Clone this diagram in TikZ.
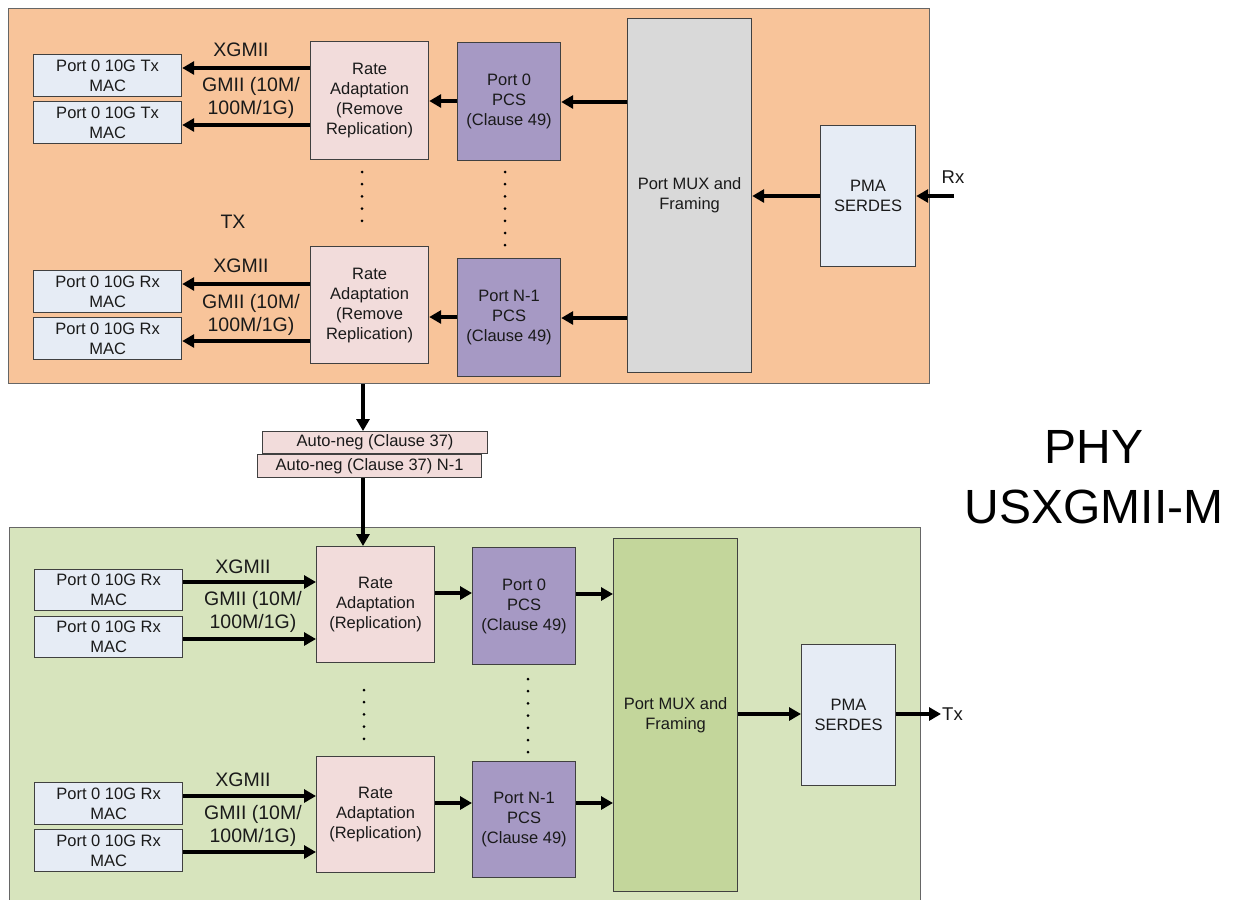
\documentclass[tikz,border=0pt]{standalone}
\usepackage{fontspec}
\setmainfont{Liberation Sans}
\usetikzlibrary{arrows.meta}

\definecolor{rxpanel}{HTML}{F8C49A}
\definecolor{txpanel}{HTML}{D7E4BD}
\definecolor{macfill}{HTML}{E6ECF5}
\definecolor{ratefill}{HTML}{F2DCDB}
\definecolor{pcsfill}{HTML}{A699C4}
\definecolor{muxgray}{HTML}{D9D9D9}
\definecolor{muxgreen}{HTML}{C3D69B}
\definecolor{edge}{HTML}{404040}
\definecolor{ink}{HTML}{1A1A1A}

% block from its top-left and bottom-right corners
\newcommand\blockat[7]{%
  \node[#6, minimum width={#4-#2}, minimum height={#5-#3}, anchor=north west] (#1) at (#2,#3) {#7};}

\begin{document}
\begin{tikzpicture}[x=1pt,y=-1pt,
  panel/.style={draw=edge!80, line width=1.4pt, inner sep=0pt},
  blk/.style={draw=edge, line width=1.2pt, inner sep=0pt, align=center, text=ink,
              font=\fontsize{16.5}{20}\selectfont},
  macbox/.style={blk, fill=macfill},
  ratebox/.style={blk, fill=ratefill},
  pcsbox/.style={blk, fill=pcsfill},
  pmabox/.style={blk, fill=macfill},
  anbox/.style={blk, fill=ratefill},
  lbl/.style={align=center, text=ink, inner sep=0pt, font=\fontsize{19.5}{23}\selectfont},
  iolbl/.style={text=ink, inner sep=0pt, font=\fontsize{18.5}{22}\selectfont},
  arr/.style={line width=3.4pt, -{Triangle[length=12pt,width=13pt]}},
  vdots/.style={line width=3pt, line cap=round, dash pattern=on 0pt off 12.2pt}
]
\useasboundingbox (0,0) rectangle (1233,899);
\fill[white] (0,0) rectangle (1233,899);
\clip (0,0) rectangle (1233,899);

% ---------------- receive side ----------------
\blockat{rxp}{8}{8}{929}{383}{panel, fill=rxpanel}{}

\blockat{rmac1}{33}{54}{181}{96}{macbox}{Port 0 10G Tx\\MAC}
\blockat{rmac2}{33}{101}{181}{143}{macbox}{Port 0 10G Tx\\MAC}
\blockat{rmac3}{33}{270}{181}{312}{macbox}{Port 0 10G Rx\\MAC}
\blockat{rmac4}{33}{317}{181}{359}{macbox}{Port 0 10G Rx\\MAC}

\blockat{rra1}{310}{41}{428}{159}{ratebox}{Rate\\Adaptation\\(Remove\\Replication)}
\blockat{rra2}{310}{246}{428}{363}{ratebox}{Rate\\Adaptation\\(Remove\\Replication)}

\blockat{rpcs1}{457}{42}{560}{160}{pcsbox}{Port 0\\PCS\\(Clause 49)}
\blockat{rpcs2}{457}{258}{560}{376}{pcsbox}{Port N-1\\PCS\\(Clause 49)}

\blockat{rmux}{627}{18}{751}{372}{blk, fill=muxgray}{Port MUX and\\Framing}
\blockat{rpma}{820}{125}{915}{266}{pmabox}{PMA\\SERDES}

\node[lbl] (rx1) at (241,50) {XGMII};
\node[lbl] (rg1) at (251,97.5) {GMII (10M/\\100M/1G)};
\node[lbl] (txl) at (233,222) {TX};
\node[lbl] (rx2) at (241,266) {XGMII};
\node[lbl] (rg2) at (251,314.5) {GMII (10M/\\100M/1G)};

\coordinate (rxin) at (954,196);
\node[iolbl] (rxlbl) at (953,177) {Rx};

\draw[arr] (rra1.west |- 0,68)  -- (rmac1.east |- 0,68);
\draw[arr] (rra1.west |- 0,125) -- (rmac2.east |- 0,125);
\draw[arr] (rra2.west |- 0,284) -- (rmac3.east |- 0,284);
\draw[arr] (rra2.west |- 0,341) -- (rmac4.east |- 0,341);
\draw[arr] (rpcs1.west |- 0,101) -- (rra1.east |- 0,101);
\draw[arr] (rpcs2.west |- 0,317) -- (rra2.east |- 0,317);
\draw[arr] (rmux.west |- 0,102) -- (rpcs1.east |- 0,102);
\draw[arr] (rmux.west |- 0,318) -- (rpcs2.east |- 0,318);
\draw[arr] (rpma.west |- 0,196) -- (rmux.east |- 0,196);
\draw[arr] (rxin) -- (rpma.east |- rxin);

\draw[vdots] (362,172) -- (362,232);
\draw[vdots] (505,172) -- (505,252);

% ---------------- auto-negotiation ----------------
\blockat{an1}{262}{431}{487}{453}{anbox}{Auto-neg (Clause 37)}
\blockat{an2}{257}{454}{481}{477}{anbox}{Auto-neg (Clause 37) N-1}

% ---------------- transmit side ----------------
\blockat{txp}{9}{527}{920}{905}{panel, fill=txpanel}{}

\blockat{tmac1}{34}{569}{182}{610}{macbox}{Port 0 10G Rx\\MAC}
\blockat{tmac2}{34}{616}{182}{657}{macbox}{Port 0 10G Rx\\MAC}
\blockat{tmac3}{34}{782}{182}{824}{macbox}{Port 0 10G Rx\\MAC}
\blockat{tmac4}{34}{829}{182}{871}{macbox}{Port 0 10G Rx\\MAC}

\blockat{tra1}{316}{546}{434}{662}{ratebox}{Rate\\Adaptation\\(Replication)}
\blockat{tra2}{316}{756}{434}{872}{ratebox}{Rate\\Adaptation\\(Replication)}

\blockat{tpcs1}{472}{547}{575}{664}{pcsbox}{Port 0\\PCS\\(Clause 49)}
\blockat{tpcs2}{472}{761}{575}{877}{pcsbox}{Port N-1\\PCS\\(Clause 49)}

\blockat{tmux}{613}{538}{737}{891}{blk, fill=muxgreen}{Port MUX and\\Framing}
\blockat{tpma}{801}{644}{895}{785}{pmabox}{PMA\\SERDES}

\node[lbl] (tx1) at (243,567) {XGMII};
\node[lbl] (tg1) at (253,612) {GMII (10M/\\100M/1G)};
\node[lbl] (tx2) at (243,780) {XGMII};
\node[lbl] (tg2) at (253,825.5) {GMII (10M/\\100M/1G)};

\coordinate (txout) at (941,714);
\node[iolbl, anchor=west] (txlbl) at (942,714) {Tx};

\draw[arr] (tmac1.east |- 0,582) -- (tra1.west |- 0,582);
\draw[arr] (tmac2.east |- 0,639) -- (tra1.west |- 0,639);
\draw[arr] (tmac3.east |- 0,796) -- (tra2.west |- 0,796);
\draw[arr] (tmac4.east |- 0,852) -- (tra2.west |- 0,852);
\draw[arr] (tra1.east |- 0,593) -- (tpcs1.west |- 0,593);
\draw[arr] (tra2.east |- 0,803) -- (tpcs2.west |- 0,803);
\draw[arr] (tpcs1.east |- 0,594) -- (tmux.west |- 0,594);
\draw[arr] (tpcs2.east |- 0,803) -- (tmux.west |- 0,803);
\draw[arr] (tmux.east |- 0,714) -- (tpma.west |- 0,714);
\draw[arr] (tpma.east |- 0,714) -- (txout);

\draw[vdots] (364,690) -- (364,750);
\draw[vdots] (528,679) -- (528,758);

% links through auto-negotiation
\draw[arr] (rxp.south -| 363,0) -- (an1.north -| 363,0);
\draw[arr] (an2.south -| 363,0) -- (tra1.north -| 363,0);

% ---------------- title ----------------
\node[align=center, inner sep=0pt, font=\fontsize{48}{60}\selectfont] (title) at (1094,477) {PHY\\USXGMII-M};
\end{tikzpicture}
\end{document}
